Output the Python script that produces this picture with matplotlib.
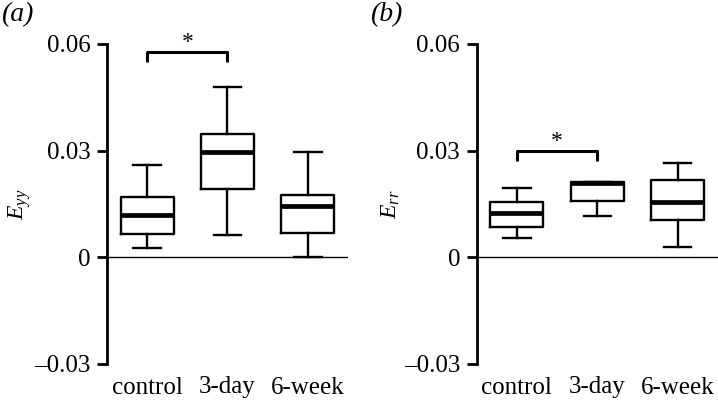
import matplotlib
matplotlib.use('Agg')
import matplotlib.pyplot as plt

plt.rcParams['font.family'] = ['Liberation Serif', 'DejaVu Serif']
plt.rcParams['mathtext.fontset'] = 'custom'
plt.rcParams['mathtext.rm'] = 'Liberation Serif'
plt.rcParams['mathtext.it'] = 'Liberation Serif:italic'

# data
groups = ['control', '3-day', '6-week']
yticks = [-0.03, 0, 0.03, 0.06]
ytick_labels = ['\u20130.03', '0', '0.03', '0.06']

# E_yy : whisker low, q1, median, q3, whisker high
eyy_wlo = [0.0027, 0.0064, 0.0]
eyy_q1 = [0.0065, 0.0191, 0.0068]
eyy_med = [0.0120, 0.0296, 0.0145]
eyy_q3 = [0.0170, 0.0348, 0.0174]
eyy_whi = [0.0261, 0.0479, 0.0296]

# E_rr
err_wlo = [0.0055, 0.0116, 0.0029]
err_q1 = [0.0084, 0.0158, 0.0106]
err_med = [0.0125, 0.0209, 0.0155]
err_q3 = [0.0155, 0.0211, 0.0217]
err_whi = [0.0195, 0.0213, 0.0265]

# significance brackets (between control and 3-day)
eyy_sig = [0.0578, 0.0548]
err_sig = [0.0299, 0.0271]

panels = [
    ('(a)', r'$E_{yy}$', eyy_wlo, eyy_q1, eyy_med, eyy_q3, eyy_whi, eyy_sig),
    ('(b)', r'$E_{rr}$', err_wlo, err_q1, err_med, err_q3, err_whi, err_sig),
]

fig = plt.figure(figsize=(7.18, 4.0), dpi=100)
lefts = [0.149, 0.664]

for left, (tag, ylab, wlo, q1, med, q3, whi, sig) in zip(lefts, panels):
    ax = fig.add_axes([left, 0.09, 0.3357, 0.80])
    stats = []
    for i in range(len(groups)):
        stats.append(dict(whislo=wlo[i], q1=q1[i], med=med[i], q3=q3[i],
                          whishi=whi[i], fliers=[], label=groups[i]))
    ax.bxp(stats, positions=range(len(groups)), widths=0.66,
           showfliers=False,
           boxprops=dict(color='black', linewidth=1.7),
           whiskerprops=dict(color='black', linewidth=1.7),
           capprops=dict(color='black', linewidth=1.7),
           medianprops=dict(color='black', linewidth=3.4, solid_capstyle='butt'),
           capwidths=0.34)
    ax.axhline(0, color='black', linewidth=1.0)

    # significance bracket
    ax.plot([0, 0, 1, 1], [sig[1], sig[0], sig[0], sig[1]], color='black',
            linewidth=2.2, solid_capstyle='butt')
    ax.text(0.5, sig[0] - 0.0004, '*', ha='center', va='bottom', fontsize=17)

    ax.set_xlim(-0.5, 2.5)
    ax.set_ylim(-0.03, 0.06)
    ax.set_yticks(yticks)
    ax.set_yticklabels(ytick_labels, fontsize=18)
    ax.set_xticks(range(len(groups)))
    ax.set_xticklabels(groups, fontsize=18)
    ax.tick_params(axis='x', length=0, pad=9)
    ax.tick_params(axis='y', length=7, width=2, pad=5)
    for s in ['top', 'right', 'bottom']:
        ax.spines[s].set_visible(False)
    ax.spines['left'].set_linewidth(2)
    ax.set_ylabel(ylab, fontsize=17, labelpad=1)

    fig.text(left - 0.149 + 0.001, 0.995, tag, ha='left', va='top',
             fontsize=20, fontstyle='italic')

fig.savefig('out.png', dpi=100)
